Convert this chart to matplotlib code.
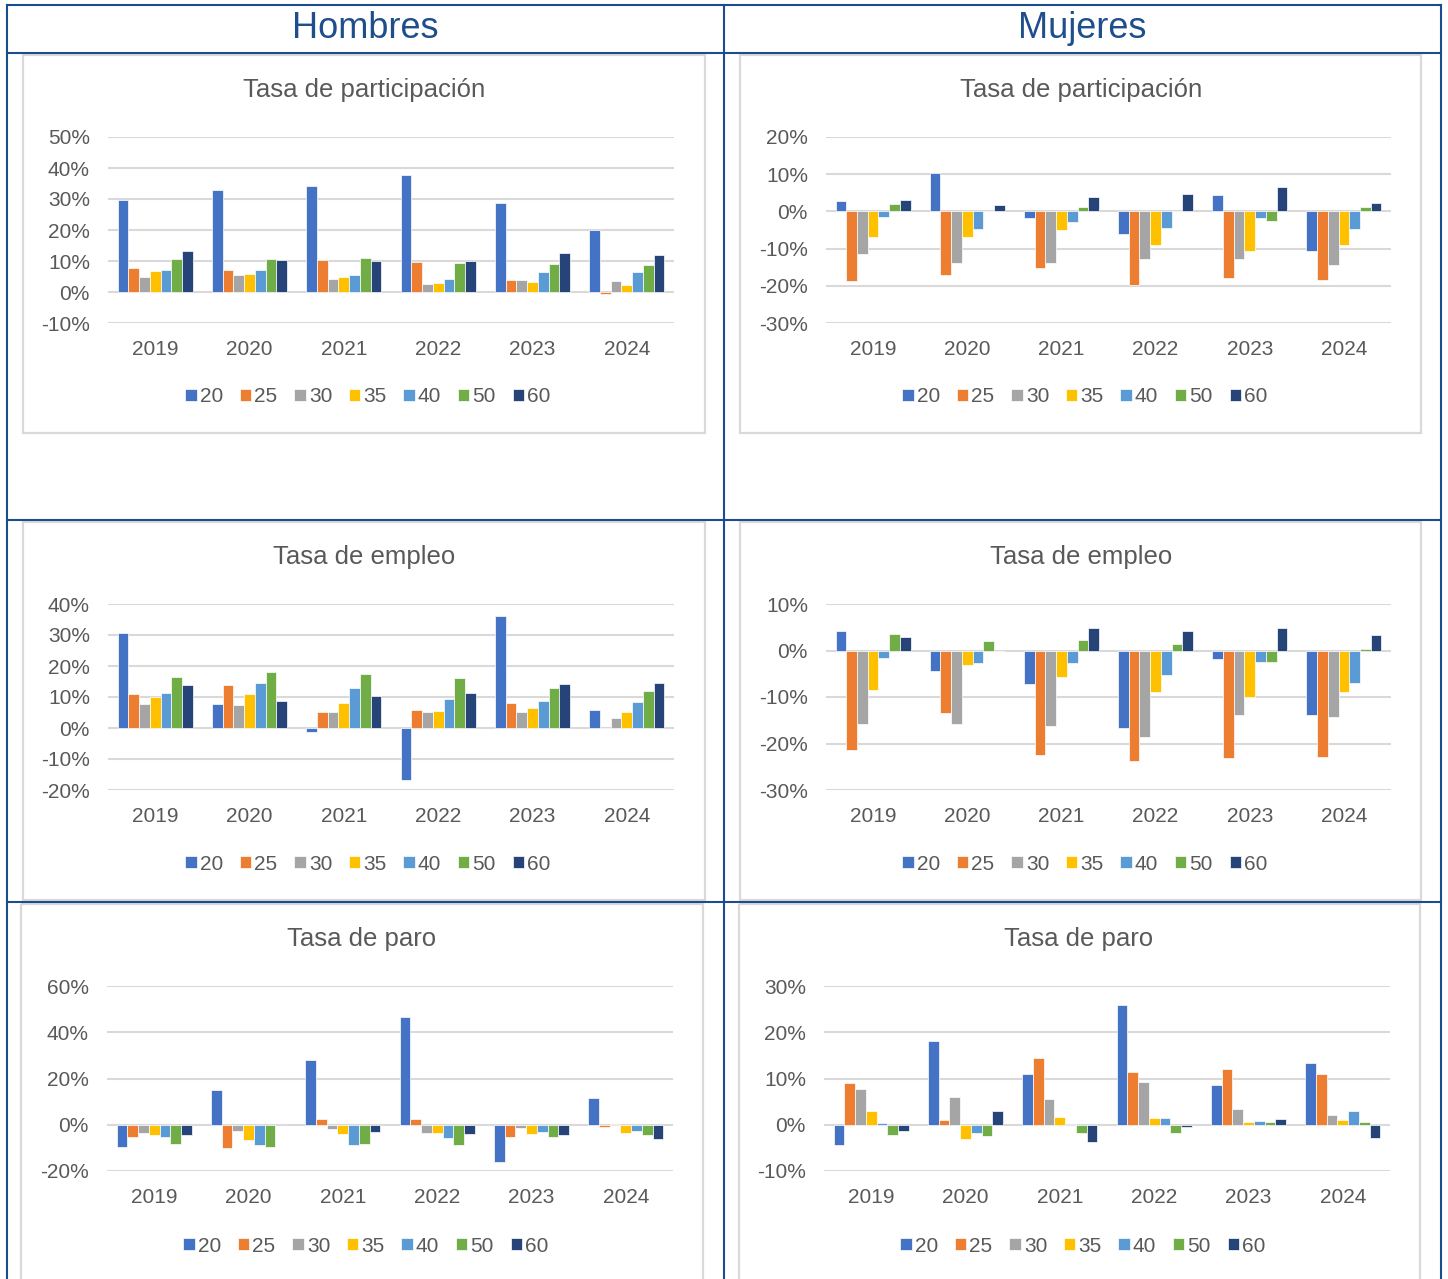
import numpy as np
import matplotlib.pyplot as plt
from matplotlib.patches import Rectangle
from matplotlib.ticker import FuncFormatter, MultipleLocator

plt.rcParams['font.family'] = ['Liberation Sans', 'DejaVu Sans']

W, H = 1448, 1279

years = ['2019', '2020', '2021', '2022', '2023', '2024']
edades = ['20', '25', '30', '35', '40', '50', '60']
colores = ['#4472C4', '#ED7D31', '#A5A5A5', '#FFC000', '#5B9BD5', '#70AD47', '#264478']

# variación (%) por año (filas) y grupo de edad (columnas)
hom_part = [[29.7, 7.8, 5.0, 6.9, 7.0, 10.5, 13.2],
            [33.0, 7.0, 5.5, 5.7, 7.2, 10.8, 10.4],
            [34.2, 10.2, 4.1, 5.0, 5.4, 11.1, 10.1],
            [37.9, 9.7, 2.5, 2.9, 4.1, 9.5, 10.1],
            [28.8, 4.0, 4.0, 3.1, 6.6, 9.1, 12.7],
            [20.0, -0.5, 3.6, 2.2, 6.4, 8.6, 11.8]]

muj_part = [[2.8, -18.8, -11.5, -6.9, -1.6, 2.0, 3.1],
            [10.4, -17.1, -13.8, -6.9, -4.8, 0.0, 1.7],
            [-1.9, -15.1, -13.8, -5.0, -2.9, 1.1, 3.8],
            [-6.1, -19.9, -12.9, -9.0, -4.5, 0.0, 4.6],
            [4.3, -18.0, -12.7, -10.7, -1.8, -2.5, 6.5],
            [-10.7, -18.5, -14.3, -8.9, -4.8, 1.1, 2.2]]

hom_emp = [[30.7, 11.0, 7.6, 10.1, 11.3, 16.6, 14.0],
           [7.8, 14.0, 7.4, 11.1, 14.4, 18.1, 8.8],
           [-1.2, 5.3, 5.1, 8.1, 12.8, 17.3, 10.3],
           [-16.8, 5.8, 5.3, 5.5, 9.5, 16.2, 11.3],
           [36.0, 8.1, 5.3, 6.5, 8.8, 12.8, 14.2],
           [5.7, 0.0, 3.1, 5.1, 8.4, 11.9, 14.5]]

muj_emp = [[4.3, -21.4, -15.9, -8.5, -1.7, 3.5, 3.0],
           [-4.4, -13.4, -15.7, -3.1, -2.7, 2.0, 0.0],
           [-7.2, -22.5, -16.2, -5.8, -2.7, 2.3, 4.9],
           [-16.7, -23.8, -18.7, -9.0, -5.3, 1.5, 4.3],
           [-1.8, -23.2, -13.9, -10.1, -2.5, -2.5, 4.9],
           [-13.9, -22.8, -14.2, -8.9, -6.9, 0.4, 3.4]]

hom_paro = [[-9.8, -5.2, -3.7, -4.3, -5.5, -8.2, -4.3],
            [15.0, -9.9, -2.9, -6.8, -8.6, -9.5, 0.3],
            [27.8, 2.4, -1.7, -4.0, -8.6, -8.3, -3.0],
            [46.5, 2.4, -3.5, -3.5, -5.9, -8.6, -4.0],
            [-16.3, -5.2, -1.6, -4.0, -3.2, -5.2, -4.3],
            [11.7, -0.9, 0.2, -3.5, -2.6, -4.6, -6.3]]

muj_paro = [[-4.3, 9.0, 7.8, 2.9, 0.3, -2.3, -1.3],
            [18.1, 1.1, 5.9, -3.1, -1.8, -2.5, 2.9],
            [11.0, 14.5, 5.6, 1.7, 0.1, -1.7, -3.8],
            [25.8, 11.5, 9.2, 1.4, 1.4, -1.8, -0.5],
            [8.5, 12.0, 3.5, 0.7, 0.8, 0.6, 1.3],
            [13.3, 11.0, 2.1, 1.0, 2.9, 0.7, -2.8]]

azul = '#1B4C8F'
gris_txt = '#595959'
gris_linea = '#D9D9D9'

fig = plt.figure(figsize=(W / 100, H / 100), dpi=100)

# capa de fondo en pixeles para la tabla, titulos y leyendas
bg = fig.add_axes([0, 0, 1, 1])
bg.set_xlim(0, W)
bg.set_ylim(H, 0)
bg.axis('off')

# recuadros grises de cada grafico
for (x0, y0, x1, y1) in [(23, 55, 705, 433), (740, 55, 1421, 433),
                         (23, 522, 705, 900), (740, 522, 1421, 900),
                         (21, 904, 703, 1300), (739, 904, 1420, 1300)]:
    bg.add_patch(Rectangle((x0, y0), x1 - x0, y1 - y0, fill=False,
                           edgecolor=gris_linea, lw=1.6))

# lineas de la tabla
lw_t = 1.5
bg.plot([7, 1441], [5, 5], color=azul, lw=lw_t)
bg.plot([7, 1441], [53, 53], color=azul, lw=lw_t)
bg.plot([7, 1441], [520, 520], color=azul, lw=lw_t)
bg.plot([7, 1441], [902, 902], color=azul, lw=lw_t)
for xv in [7, 724, 1441]:
    bg.plot([xv, xv], [5, H], color=azul, lw=lw_t)

bg.text(365, 29, 'Hombres', ha='center', va='center', fontsize=26, color='#1F4E8C')
bg.text(1082, 29, 'Mujeres', ha='center', va='center', fontsize=26, color='#1F4E8C')

# (datos, titulo, caja del eje en px, centro del recuadro, limites y, paso, y titulo, y leyenda)
paneles = [
    (hom_part, 'Tasa de participación', (108, 137, 674, 323), 364, (-10, 50), 10, 90, 397),
    (muj_part, 'Tasa de participación', (826, 137, 1391, 323), 1081, (-30, 20), 10, 90, 397),
    (hom_emp, 'Tasa de empleo', (108, 604, 674, 790), 364, (-20, 40), 10, 557, 864),
    (muj_emp, 'Tasa de empleo', (826, 604, 1391, 790), 1081, (-30, 10), 10, 557, 864),
    (hom_paro, 'Tasa de paro', (107, 986, 673, 1171), 362, (-20, 60), 20, 939, 1246),
    (muj_paro, 'Tasa de paro', (824, 986, 1390, 1171), 1079, (-10, 30), 10, 939, 1246),
]

x = np.arange(len(years))
w = 0.114

for datos, titulo, (x0, y0, x1, y1), cx, lims, paso, yt, yl in paneles:
    ax = fig.add_axes([x0 / W, 1 - y1 / H, (x1 - x0) / W, (y1 - y0) / H])
    vals = np.array(datos)
    barras = []
    for i, ed in enumerate(edades):
        b = ax.bar(x + (i - 3) * w, vals[:, i], w, color=colores[i],
                   edgecolor='white', lw=0.5, label=ed, zorder=3)
        barras.append(b)
    ax.set_xlim(-0.5, len(years) - 0.5)
    ax.set_ylim(*lims)
    ax.yaxis.set_major_locator(MultipleLocator(paso))
    ax.yaxis.set_major_formatter(FuncFormatter(lambda v, p: '%d%%' % round(v)))
    ax.yaxis.grid(True, color=gris_linea, lw=1.5)
    ax.set_axisbelow(True)
    for s in ax.spines.values():
        s.set_visible(False)
    ax.set_xticks(x)
    ax.set_xticklabels(years)
    ax.tick_params(axis='both', length=0, labelsize=15, colors=gris_txt)
    ax.tick_params(axis='x', pad=12)
    ax.tick_params(axis='y', pad=13)
    ax.patch.set_alpha(0)

    bg.text(cx, yt, titulo, ha='center', va='center', fontsize=18.5, color=gris_txt)
    ax.legend(barras, edades, loc='center', bbox_to_anchor=(cx + 4, yl),
              bbox_transform=bg.transData, ncol=7, frameon=False, fontsize=15,
              handlelength=0.55, handleheight=0.55, handletextpad=0.15,
              columnspacing=0.8, labelcolor=gris_txt)

fig.savefig('out.png', dpi=100)
